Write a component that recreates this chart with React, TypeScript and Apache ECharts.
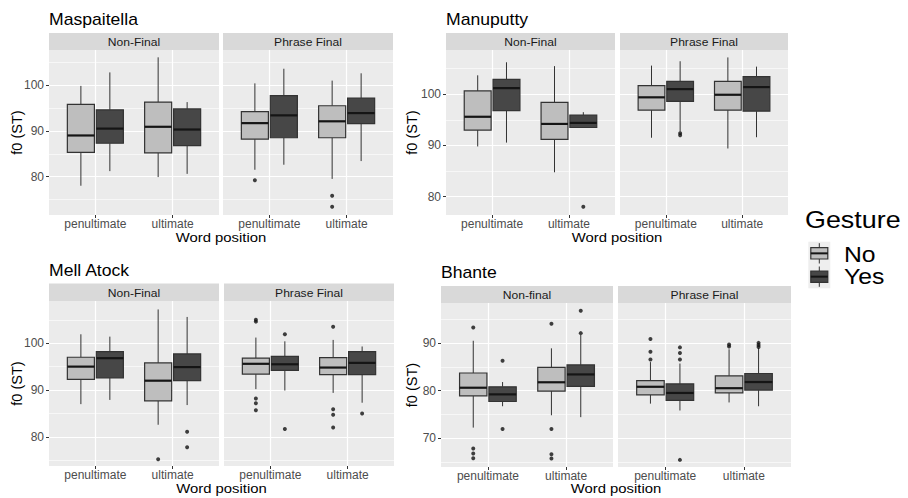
import React, { useEffect, useRef } from 'react';
import * as echarts from 'echarts';

const speakers = ['Maspaitella', 'Manuputty', 'Mell Atock', 'Bhante'];
const facetLabels = [
  ['Non-Final', 'Phrase Final'],
  ['Non-Final', 'Phrase Final'],
  ['Non-Final', 'Phrase Final'],
  ['Non-final', 'Phrase Final'],
];
const positions = ['penultimate', 'ultimate'];
const gestures = ['No', 'Yes'];
const xTitle = 'Word position';
const yTitle = 'f0 (ST)';
const legendTitle = 'Gesture';

const yTicks = [
  [80, 90, 100],
  [80, 90, 100],
  [80, 90, 100],
  [70, 80, 90],
];
const yMinor = [
  [75, 85, 95, 105],
  [85, 95, 105],
  [75, 85, 95, 105],
  [65, 75, 85, 95],
];
const yRanges = [
  [71.6, 107.7],
  [76.4, 108.65],
  [73.8, 109],
  [63.9, 98.45],
];

// [facet, position(1|2), gesture(0=No,1=Yes), low, q1, median, q3, high]
const maspaitellaBoxes = [
  [0, 1, 0, 78.0, 85.3, 89.0, 95.8, 99.85],
  [0, 1, 1, 81.2, 87.3, 90.5, 94.6, 102.8],
  [0, 2, 0, 79.9, 85.2, 90.9, 96.3, 106.1],
  [0, 2, 1, 80.6, 86.8, 90.3, 94.8, 96.3],
  [1, 1, 0, 81.5, 88.2, 91.7, 94.2, 100.4],
  [1, 1, 1, 82.6, 88.5, 93.4, 97.7, 103.6],
  [1, 2, 0, 79.5, 88.5, 92.1, 95.5, 101.0],
  [1, 2, 1, 83.4, 91.6, 93.9, 97.2, 102.6],
];
// [facet, position, gesture, value]
const maspaitellaOutliers = [
  [1, 1, 0, 79.2],
  [1, 2, 0, 75.8],
  [1, 2, 0, 73.4],
];

const manuputtyBoxes = [
  [0, 1, 0, 89.8, 93.0, 95.6, 100.65, 103.7],
  [0, 1, 1, 90.55, 96.8, 101.2, 102.9, 106.25],
  [0, 2, 0, 84.75, 91.2, 94.2, 98.4, 105.5],
  [0, 2, 1, 93.5, 93.5, 94.4, 95.95, 96.5],
  [1, 1, 0, 91.5, 96.9, 99.4, 101.7, 105.6],
  [1, 1, 1, 92.8, 98.6, 101.0, 102.5, 106.45],
  [1, 2, 0, 89.4, 96.9, 99.9, 102.5, 107.2],
  [1, 2, 1, 91.6, 96.7, 101.4, 103.45, 105.4],
];
const manuputtyOutliers = [
  [0, 2, 1, 78.0],
  [1, 1, 1, 92.4],
  [1, 1, 1, 92.0],
];

const mellAtockBoxes = [
  [0, 1, 0, 87.0, 92.3, 95.0, 97.0, 101.9],
  [0, 1, 1, 87.9, 92.6, 96.8, 98.2, 101.4],
  [0, 2, 0, 82.6, 87.7, 92.0, 95.8, 107.2],
  [0, 2, 1, 86.8, 92.0, 94.9, 97.7, 105.6],
  [1, 1, 0, 90.2, 93.4, 95.6, 96.8, 101.2],
  [1, 1, 1, 89.9, 94.2, 95.5, 97.2, 100.4],
  [1, 2, 0, 89.4, 93.3, 94.8, 96.9, 100.7],
  [1, 2, 1, 87.3, 93.3, 95.8, 98.2, 99.3],
];
const mellAtockOutliers = [
  [0, 2, 0, 75.25],
  [0, 2, 1, 81.1],
  [0, 2, 1, 77.8],
  [1, 1, 0, 105.0],
  [1, 1, 0, 104.6],
  [1, 1, 0, 88.2],
  [1, 1, 0, 87.2],
  [1, 1, 0, 85.7],
  [1, 1, 1, 101.9],
  [1, 1, 1, 81.7],
  [1, 2, 0, 103.5],
  [1, 2, 0, 85.9],
  [1, 2, 0, 84.75],
  [1, 2, 0, 82.0],
  [1, 2, 1, 85.0],
];

const bhanteBoxes = [
  [0, 1, 0, 72.2, 78.9, 80.6, 83.7, 90.5],
  [0, 1, 1, 76.7, 77.7, 79.2, 80.8, 81.8],
  [0, 2, 0, 74.8, 79.9, 81.75, 84.9, 88.9],
  [0, 2, 1, 74.4, 80.9, 83.4, 85.4, 91.7],
  [1, 1, 0, 77.25, 79.1, 80.8, 82.1, 86.0],
  [1, 1, 1, 75.8, 77.95, 79.5, 81.4, 85.7],
  [1, 2, 0, 77.5, 79.5, 80.5, 83.1, 88.7],
  [1, 2, 1, 76.7, 80.1, 81.8, 83.6, 89.0],
];
const bhanteOutliers = [
  [0, 1, 0, 93.3],
  [0, 1, 0, 67.8],
  [0, 1, 0, 66.75],
  [0, 1, 0, 65.75],
  [0, 1, 1, 86.3],
  [0, 1, 1, 71.9],
  [0, 2, 0, 94.1],
  [0, 2, 0, 71.9],
  [0, 2, 0, 66.6],
  [0, 2, 0, 65.7],
  [0, 2, 1, 96.8],
  [0, 2, 1, 92.1],
  [1, 1, 0, 90.85],
  [1, 1, 0, 88.2],
  [1, 1, 0, 86.55],
  [1, 1, 1, 89.1],
  [1, 1, 1, 87.9],
  [1, 1, 1, 86.55],
  [1, 1, 1, 65.4],
  [1, 2, 0, 89.7],
  [1, 2, 0, 89.3],
  [1, 2, 1, 90.05],
  [1, 2, 1, 89.6],
  [1, 2, 1, 89.2],
];

const allBoxes = [maspaitellaBoxes, manuputtyBoxes, mellAtockBoxes, bhanteBoxes];
const allOutliers = [maspaitellaOutliers, manuputtyOutliers, mellAtockOutliers, bhanteOutliers];

// layout (pixels)
const layouts = [
  { facets: [[49, 170], [223, 170]], top: 50, height: 165, stripTop: 33, titleX: 49, titleY: 20, yTitleX: 17, xTitleY: 237.5 },
  { facets: [[446, 169], [620, 168]], top: 50, height: 165, stripTop: 33, titleX: 446, titleY: 20, yTitleX: 412, xTitleY: 237.5 },
  { facets: [[49, 170], [224, 170]], top: 301, height: 165, stripTop: 283.5, titleX: 49, titleY: 270.5, yTitleX: 17, xTitleY: 488 },
  { facets: [[441, 172], [618, 173]], top: 303, height: 164, stripTop: 286, titleX: 441, titleY: 273, yTitleX: 412, xTitleY: 488 },
];

const FONT = 'Liberation Sans';
const fills = ['#BEBEBE', '#474747'];
const dodge = 0.1875;
const boxHalf = 0.175;

function buildOption() {
  const grids: any[] = [];
  const xAxes: any[] = [];
  const yAxes: any[] = [];
  const series: any[] = [];
  const graphics: any[] = [];

  speakers.forEach((sp, p) => {
    const L = layouts[p];
    graphics.push({
      type: 'text', x: L.titleX, y: L.titleY, scaleX: 1.1,
      style: { text: sp, fontSize: 16, fontFamily: FONT, fill: '#000', align: 'left', verticalAlign: 'middle' },
    });
    const left0 = L.facets[0][0];
    const right1 = L.facets[1][0] + L.facets[1][1];
    graphics.push({
      type: 'text', x: (left0 + right1) / 2, y: L.xTitleY, scaleX: 1.1,
      style: { text: xTitle, fontSize: 13.5, fontFamily: FONT, fill: '#000', align: 'center', verticalAlign: 'middle' },
    });
    graphics.push({
      type: 'text', x: L.yTitleX, y: L.top + L.height / 2, rotation: Math.PI / 2,
      style: { text: yTitle, fontSize: 14.5, fontFamily: FONT, fill: '#000', align: 'center', verticalAlign: 'middle' },
    });

    L.facets.forEach(([left, width], f) => {
      const gi = grids.length;
      graphics.push({
        type: 'rect', shape: { x: left, y: L.stripTop, width, height: L.top - L.stripTop },
        style: { fill: '#D9D9D9' },
      });
      graphics.push({
        type: 'text', x: left + width / 2, y: (L.stripTop + L.top) / 2 + 0.5, scaleX: 1.08,
        style: { text: facetLabels[p][f], fontSize: 11.2, fontFamily: FONT, fill: '#1A1A1A', align: 'center', verticalAlign: 'middle' },
      });
      grids.push({
        left, top: L.top, width, height: L.height, show: true, backgroundColor: '#EBEBEB',
        borderWidth: 0, containLabel: false, outerBoundsMode: 'none',
      });
      xAxes.push({
        type: 'value', gridIndex: gi, min: 0.4, max: 2.6,
        axisLine: { show: false }, splitLine: { show: false }, minorSplitLine: { show: false },
        axisTick: { show: true, customValues: [1, 2], length: 3, lineStyle: { color: '#333333', width: 1 } },
        axisLabel: {
          customValues: [1, 2], margin: 3, color: '#4D4D4D', fontSize: 12, fontFamily: FONT,
          formatter: (v: number) => positions[Math.round(v) - 1] ?? '',
        },
      });
      yAxes.push({
        type: 'value', gridIndex: gi, min: yRanges[p][0], max: yRanges[p][1],
        axisLine: { show: false }, splitLine: { show: false }, minorSplitLine: { show: false },
        axisTick: { show: f === 0, customValues: yTicks[p], length: 3, lineStyle: { color: '#333333', width: 1 } },
        axisLabel: { show: f === 0, customValues: yTicks[p], margin: 5, color: '#4D4D4D', fontSize: 12, fontFamily: FONT },
      });

      const lineData: any[] = [];
      yMinor[p].forEach((v) => lineData.push({ yAxis: v, lineStyle: { color: '#FFFFFF', width: 0.6, type: 'solid' } }));
      yTicks[p].forEach((v) => lineData.push({ yAxis: v, lineStyle: { color: '#FFFFFF', width: 1.2, type: 'solid' } }));
      [1, 2].forEach((v) => lineData.push({ xAxis: v, lineStyle: { color: '#FFFFFF', width: 1.2, type: 'solid' } }));
      series.push({
        type: 'scatter', xAxisIndex: gi, yAxisIndex: gi, data: [], z: 1, silent: true,
        markLine: {
          silent: true, z: 1, symbol: ['none', 'none'], label: { show: false },
          lineStyle: { type: 'solid', color: '#FFFFFF' }, emphasis: { disabled: true }, data: lineData,
        },
      });

      const boxData = allBoxes[p].filter((b) => b[0] === f).map((b) => b.slice(1));
      series.push({
        type: 'custom', name: 'boxes', xAxisIndex: gi, yAxisIndex: gi, z: 3, silent: true,
        encode: { x: 0, y: [2, 3, 4, 5, 6] },
        data: boxData,
        renderItem: (params: any, api: any) => {
          const pos = api.value(0);
          const g = api.value(1);
          const x = pos + (g === 0 ? -dodge : dodge);
          const pTop = api.coord([x, api.value(6)]);
          const pQ3 = api.coord([x, api.value(5)]);
          const pMed = api.coord([x, api.value(4)]);
          const pQ1 = api.coord([x, api.value(3)]);
          const pLow = api.coord([x, api.value(2)]);
          const hw = api.size([boxHalf, 0])[0];
          const cx = pTop[0];
          const lineStyle = { stroke: '#333333', lineWidth: 1 };
          return {
            type: 'group',
            children: [
              { type: 'line', shape: { x1: cx, y1: pTop[1], x2: cx, y2: pQ3[1] }, style: lineStyle },
              { type: 'line', shape: { x1: cx, y1: pQ1[1], x2: cx, y2: pLow[1] }, style: lineStyle },
              {
                type: 'rect', shape: { x: cx - hw, y: pQ3[1], width: 2 * hw, height: pQ1[1] - pQ3[1] },
                style: { fill: fills[g], stroke: '#333333', lineWidth: 1.2 },
              },
              { type: 'line', shape: { x1: cx - hw, y1: pMed[1], x2: cx + hw, y2: pMed[1] }, style: { stroke: '#151515', lineWidth: 2.2 } },
            ],
          };
        },
      });

      const outData = allOutliers[p]
        .filter((o) => o[0] === f)
        .map((o) => [o[1] + (o[2] === 0 ? -dodge : dodge), o[3]]);
      series.push({
        type: 'scatter', xAxisIndex: gi, yAxisIndex: gi, z: 4, silent: true,
        symbol: 'circle', symbolSize: 4, itemStyle: { color: '#111111' }, data: outData,
      });
    });
  });

  // legend
  graphics.push({
    type: 'text', x: 805, y: 219.5, scaleX: 1.12,
    style: { text: legendTitle, fontSize: 24, fontFamily: FONT, fill: '#000', align: 'left', verticalAlign: 'middle' },
  });
  gestures.forEach((g, i) => {
    const top = 241.7 + i * 23.3;
    const kx = 808.3;
    const kw = 22;
    const cx = kx + kw / 2;
    graphics.push({ type: 'rect', shape: { x: kx, y: top, width: kw, height: 23.3 }, style: { fill: '#EEEEEE' } });
    graphics.push({ type: 'line', shape: { x1: cx, y1: top + 1.5, x2: cx, y2: top + 21.8 }, style: { stroke: '#333333', lineWidth: 1 } });
    graphics.push({
      type: 'rect', shape: { x: kx + 2.5, y: top + 6, width: kw - 5, height: 11.3 },
      style: { fill: fills[i], stroke: '#333333', lineWidth: 1.2 },
    });
    graphics.push({ type: 'line', shape: { x1: kx + 2.5, y1: top + 11.65, x2: kx + kw - 2.5, y2: top + 11.65 }, style: { stroke: '#151515', lineWidth: 2 } });
    graphics.push({
      type: 'text', x: 844, y: 255 + i * 21.3, scaleX: 1.15,
      style: { text: g, fontSize: 21.5, fontFamily: FONT, fill: '#000', align: 'left', verticalAlign: 'middle' },
    });
  });

  return {
    animation: false,
    backgroundColor: '#FFFFFF',
    textStyle: { fontFamily: FONT },
    grid: grids,
    xAxis: xAxes,
    yAxis: yAxes,
    series,
    graphic: { elements: graphics },
  };
}

export default function App() {
  const ref = useRef<HTMLDivElement>(null);
  useEffect(() => {
    if (!ref.current) return;
    const chart = echarts.init(ref.current, undefined, { renderer: 'svg' });
    chart.setOption(buildOption() as any);
    return () => chart.dispose();
  }, []);
  return (
    <div
      ref={ref}
      style={{ position: 'fixed', left: 0, top: 0, width: 908, height: 498, background: '#fff' }}
    />
  );
}
